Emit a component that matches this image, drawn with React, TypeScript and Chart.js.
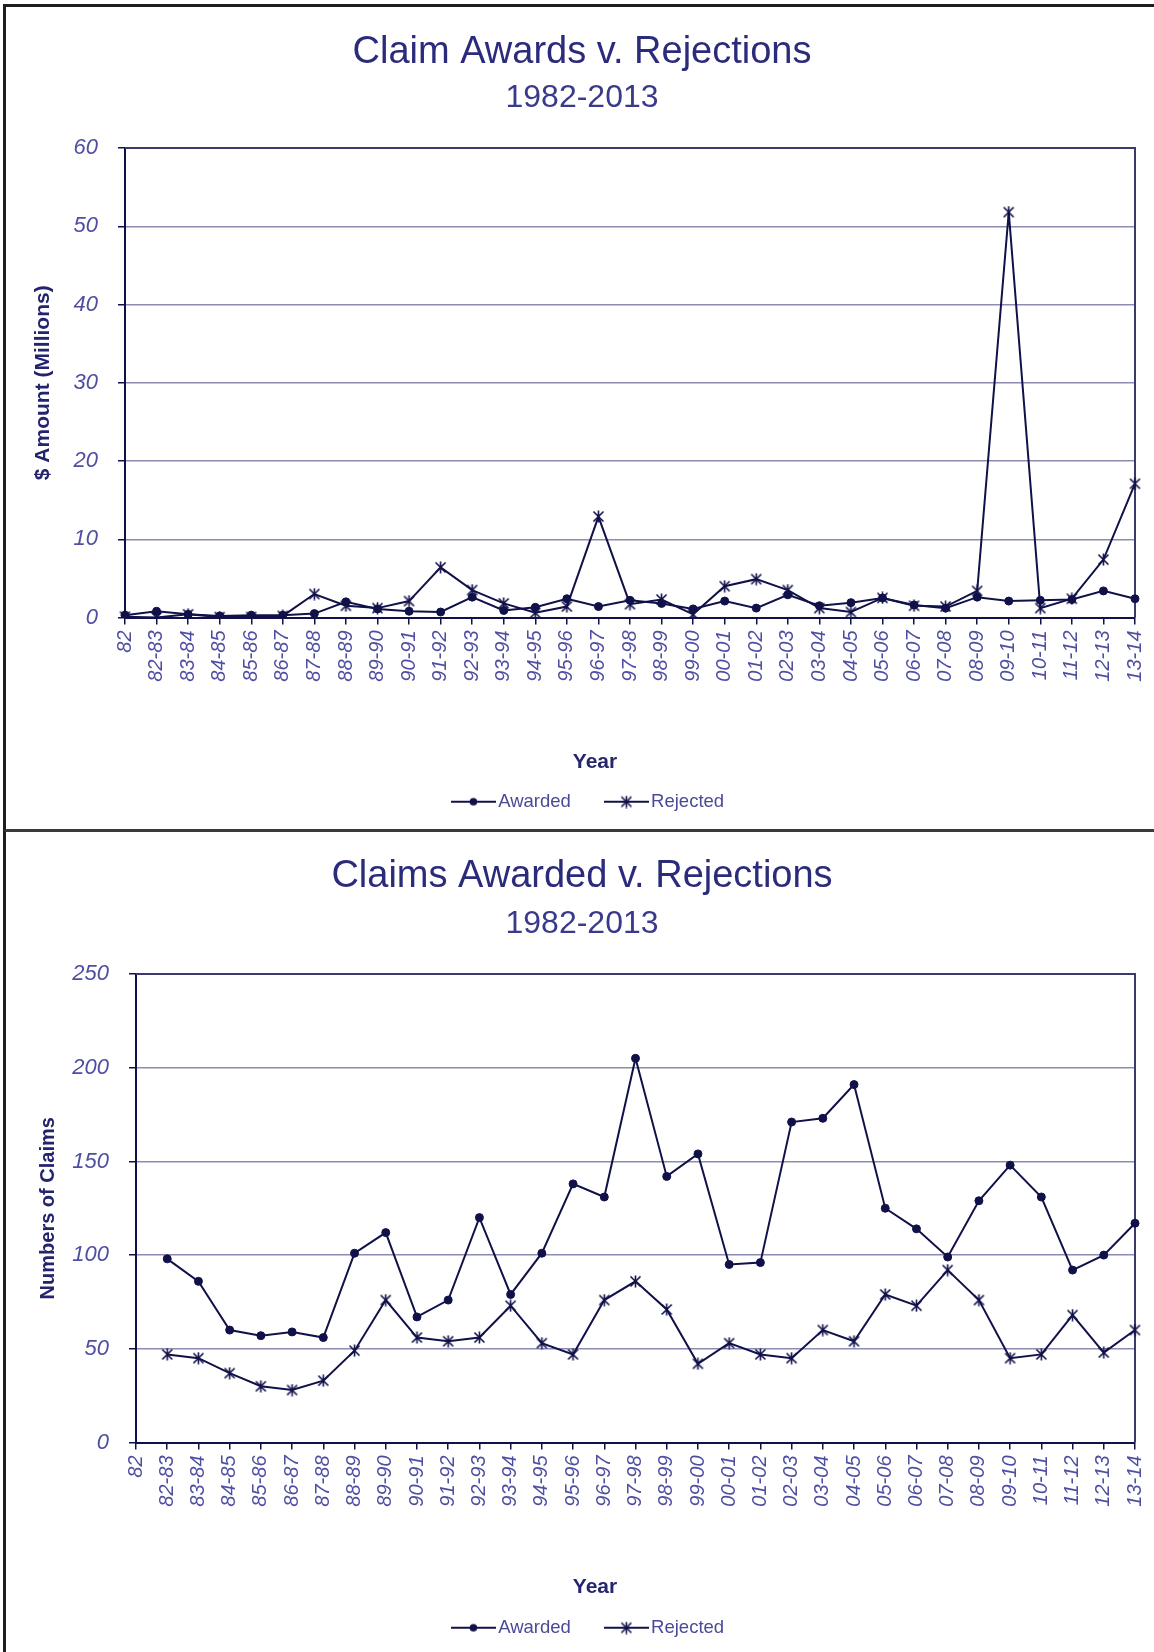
import React, { useEffect, useRef } from "react";
import { Chart, registerables } from "chart.js";

Chart.register(...registerables);

const categories = [
  "82", "82-83", "83-84", "84-85", "85-86", "86-87", "87-88", "88-89", "89-90", "90-91",
  "91-92", "92-93", "93-94", "94-95", "95-96", "96-97", "97-98", "98-99", "99-00", "00-01",
  "01-02", "02-03", "03-04", "04-05", "05-06", "06-07", "07-08", "08-09", "09-10", "10-11",
  "11-12", "12-13", "13-14",
];

// $ amounts (millions)
const amountAwarded = [
  0.3, 0.8, 0.4, 0.2, 0.3, 0.3, 0.5, 2.0, 1.1, 0.8,
  0.7, 2.6, 0.9, 1.3, 2.4, 1.4, 2.2, 1.8, 1.1, 2.1,
  1.2, 2.9, 1.5, 1.9, 2.5, 1.6, 1.2, 2.6, 2.1, 2.2,
  2.3, 3.4, 2.4,
];
const amountRejected = [
  0.1, 0.0, 0.4, 0.05, 0.05, 0.2, 3.0, 1.5, 1.2, 2.1,
  6.4, 3.5, 1.8, 0.6, 1.4, 12.9, 1.7, 2.3, 0.4, 4.0,
  4.9, 3.5, 1.2, 0.7, 2.5, 1.5, 1.4, 3.4, 51.8, 1.2,
  2.4, 7.4, 17.1,
];

// Number of claims
const claimsAwarded = [
  null, 98, 86, 60, 57, 59, 56, 101, 112, 67,
  76, 120, 79, 101, 138, 131, 205, 142, 154, 95,
  96, 171, 173, 191, 125, 114, 99, 129, 148, 131,
  92, 100, 117,
];
const claimsRejected = [
  null, 47, 45, 37, 30, 28, 33, 49, 76, 56,
  54, 56, 73, 53, 47, 76, 86, 71, 42, 53,
  47, 45, 60, 54, 79, 73, 92, 76, 45, 47,
  68, 48, 60,
];

const NAVY = "#11114a";
const TITLE = "#2b2b7b";
const TICK = "#4e4ea2";
const GRID = "#8c8cb2";
const FONT = "'Liberation Sans', Arial, sans-serif";

function makeStar(size: number, lw: number): HTMLCanvasElement {
  const c = document.createElement("canvas");
  c.width = size;
  c.height = size;
  const g = c.getContext("2d")!;
  g.strokeStyle = NAVY;
  g.lineWidth = lw;
  const m = 1.5;
  const s = size - 1.5;
  g.beginPath();
  g.moveTo(m, m);
  g.lineTo(s, s);
  g.moveTo(s, m);
  g.lineTo(m, s);
  g.moveTo(size / 2, 0.5);
  g.lineTo(size / 2, size - 0.5);
  g.stroke();
  return c;
}

function makeLegendImg(kind: "dot" | "star"): HTMLCanvasElement {
  const w = 45;
  const h = 14;
  const c = document.createElement("canvas");
  c.width = w;
  c.height = h;
  const g = c.getContext("2d")!;
  g.strokeStyle = NAVY;
  g.lineWidth = 2;
  g.beginPath();
  g.moveTo(0, h / 2);
  g.lineTo(w, h / 2);
  g.stroke();
  if (kind === "dot") {
    g.fillStyle = NAVY;
    g.beginPath();
    g.arc(w / 2, h / 2, 3.8, 0, Math.PI * 2);
    g.fill();
  } else {
    g.drawImage(makeStar(13, 1.6), w / 2 - 6.5, h / 2 - 6.5);
  }
  return c;
}

interface Cfg {
  title: string;
  yTitle: string;
  yTitleSize: number;
  yMax: number;
  yStep: number;
  awarded: (number | null)[];
  rejected: (number | null)[];
  yWidth: number;
  yTitlePad: number;
  yTickPad: number;
  xTickPad: number;
  titlePadTop: number;
  subPadTop: number;
  subPadBottom: number;
  xHeight: number;
  padBottom: number;
  yearOffset: number;
}

const PAD_LEFT = 29;
const PAD_RIGHT = 19;
const LEGEND_SHIFT = 9;

function buildConfig(cfg: Cfg): any {
  const star = makeStar(13, 1.6);
  const legendDot = makeLegendImg("dot");
  const legendStar = makeLegendImg("star");

  const framePlugin = {
    id: "frameAndYear",
    beforeDraw(chart: any) {
      const lg = chart.legend;
      if (lg) {
        lg.left = PAD_LEFT + LEGEND_SHIFT;
        lg.right = chart.width - PAD_RIGHT + LEGEND_SHIFT;
      }
    },
    beforeDatasetsDraw(chart: any) {
      const { ctx, chartArea: a } = chart;
      ctx.save();
      ctx.strokeStyle = "#3a3a6c";
      ctx.lineWidth = 2;
      ctx.beginPath();
      ctx.moveTo(a.left, a.top);
      ctx.lineTo(a.right, a.top);
      ctx.lineTo(a.right, a.bottom);
      ctx.stroke();
      ctx.restore();
    },
    afterDraw(chart: any) {
      const { ctx, chartArea: a } = chart;
      ctx.save();
      ctx.font = `bold 21px ${FONT}`;
      ctx.fillStyle = "#26266e";
      ctx.textAlign = "center";
      ctx.textBaseline = "middle";
      const cx = (PAD_LEFT + chart.width - PAD_RIGHT) / 2 + 13;
      ctx.fillText("Year", cx, a.bottom + cfg.yearOffset);
      ctx.restore();
    },
  };

  return {
    type: "line",
    data: {
      labels: categories,
      datasets: [
        {
          label: "Awarded",
          data: cfg.awarded,
          borderColor: NAVY,
          backgroundColor: NAVY,
          borderWidth: 2,
          pointStyle: "circle",
          pointRadius: 4,
          pointBackgroundColor: NAVY,
          pointBorderColor: NAVY,
          pointBorderWidth: 1,
          tension: 0,
        },
        {
          label: "Rejected",
          data: cfg.rejected,
          borderColor: NAVY,
          backgroundColor: NAVY,
          borderWidth: 2,
          pointStyle: star,
          pointRadius: 6,
          tension: 0,
        },
      ],
    },
    options: {
      responsive: false,
      animation: false,
      events: [],
      layout: { padding: { left: PAD_LEFT, right: PAD_RIGHT, top: 0, bottom: cfg.padBottom } },
      plugins: {
        tooltip: { enabled: false },
        title: {
          display: true,
          text: cfg.title,
          color: TITLE,
          font: { family: FONT, size: 38, weight: "normal" },
          padding: { top: cfg.titlePadTop, bottom: 0 },
        },
        subtitle: {
          display: true,
          text: "1982-2013",
          color: "#3a3a8c",
          font: { family: FONT, size: 32, weight: "normal" },
          padding: { top: cfg.subPadTop, bottom: cfg.subPadBottom },
        },
        legend: {
          display: true,
          position: "bottom",
          labels: {
            usePointStyle: true,
            pointStyleWidth: 31,
            boxHeight: 12,
            padding: 40,
            color: "#4a4a96",
            font: { family: FONT, size: 18.5, weight: "normal" },
            generateLabels: () => [
              { text: "Awarded", pointStyle: legendDot, fillStyle: NAVY, strokeStyle: NAVY, lineWidth: 0, hidden: false, datasetIndex: 0, fontColor: "#4a4a96" },
              { text: "Rejected", pointStyle: legendStar, fillStyle: NAVY, strokeStyle: NAVY, lineWidth: 0, hidden: false, datasetIndex: 1, fontColor: "#4a4a96" },
            ],
          },
        },
      },
      scales: {
        x: {
          type: "category",
          offset: false,
          afterFit(scale: any) {
            scale.height = cfg.xHeight;
            scale.paddingLeft = 0;
            scale.paddingRight = 0;
          },
          grid: {
            drawOnChartArea: false,
            drawTicks: true,
            tickLength: 7,
            tickColor: NAVY,
            lineWidth: 1.5,
          },
          border: { display: true, color: NAVY, width: 2 },
          ticks: {
            autoSkip: false,
            minRotation: 90,
            maxRotation: 90,
            padding: cfg.xTickPad,
            color: TICK,
            font: { family: FONT, size: 20, style: "italic" },
          },
        },
        y: {
          min: 0,
          max: cfg.yMax,
          afterFit(scale: any) {
            scale.width = cfg.yWidth;
          },
          grid: {
            color: GRID,
            lineWidth: 1.5,
            drawTicks: true,
            tickLength: 7,
            tickColor: NAVY,
          },
          border: { display: true, color: NAVY, width: 2 },
          ticks: {
            stepSize: cfg.yStep,
            padding: cfg.yTickPad,
            color: TICK,
            font: { family: FONT, size: 22, style: "italic" },
          },
          title: {
            display: true,
            text: cfg.yTitle,
            color: "#23236e",
            font: { family: FONT, size: cfg.yTitleSize, weight: "bold" },
            padding: { top: cfg.yTitlePad, bottom: 0 },
          },
        },
      },
    },
    plugins: [framePlugin],
  };
}

const topCfg: Cfg = {
  title: "Claim Awards v. Rejections",
  yTitle: "$ Amount (Millions)",
  yTitleSize: 21,
  yMax: 60,
  yStep: 10,
  awarded: amountAwarded,
  rejected: amountRejected,
  yWidth: 125 - PAD_LEFT,
  yTitlePad: 2,
  yTickPad: 20,
  xTickPad: 6,
  titlePadTop: 30,
  subPadTop: 3,
  subPadBottom: 31,
  xHeight: 135,
  padBottom: 9,
  yearOffset: 145,
};

const bottomCfg: Cfg = {
  title: "Claims Awarded v. Rejections",
  yTitle: "Numbers of Claims",
  yTitleSize: 20,
  yMax: 250,
  yStep: 50,
  awarded: claimsAwarded,
  rejected: claimsRejected,
  yWidth: 136 - PAD_LEFT,
  yTitlePad: 7,
  yTickPad: 20,
  xTickPad: 6,
  titlePadTop: 24,
  subPadTop: 5,
  subPadBottom: 31,
  xHeight: 136,
  padBottom: 5,
  yearOffset: 145,
};

function ChartCanvas(props: { cfg: Cfg; top: number; height: number }) {
  const ref = useRef<HTMLCanvasElement | null>(null);
  useEffect(() => {
    const chart = new Chart(ref.current!, buildConfig(props.cfg));
    return () => chart.destroy();
  }, []);
  return (
    <canvas
      ref={ref}
      width={1154}
      height={props.height}
      style={{ position: "absolute", left: 0, top: props.top, width: 1154, height: props.height }}
    />
  );
}

export default function App() {
  return (
    <div
      style={{
        position: "absolute",
        left: 0,
        top: 0,
        width: 1154,
        height: 1652,
        overflow: "hidden",
        background: "#ffffff",
      }}
    >
      <div
        style={{
          position: "absolute",
          left: 3,
          top: 4,
          width: 1200,
          height: 822,
          borderLeft: "3px solid #1e1e1e",
          borderTop: "3px solid #1e1e1e",
          borderBottom: "3px solid #3a3a3a",
        }}
      />
      <div
        style={{
          position: "absolute",
          left: 3,
          top: 830,
          width: 1200,
          height: 900,
          borderLeft: "3px solid #1e1e1e",
          borderTop: "2px solid #3a3a3a",
        }}
      />
      <ChartCanvas cfg={topCfg} top={0} height={830} />
      <ChartCanvas cfg={bottomCfg} top={830} height={822} />
    </div>
  );
}
